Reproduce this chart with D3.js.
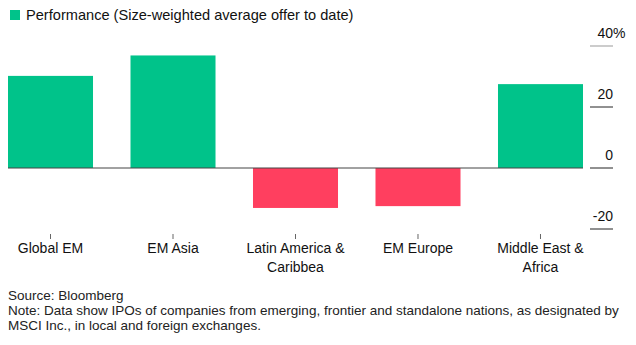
<!DOCTYPE html>
<html>
<head>
<meta charset="utf-8">
<script src="https://cdn.jsdelivr.net/npm/d3@7"></script>
<style>
  body { margin: 0; background: #fff; }
  svg { display: block; font-family: "Liberation Sans", Arial, sans-serif; }
</style>
</head>
<body>
<div id="chart"></div>
<script>
// data
var regions = ["Global EM", "EM Asia", "Latin America & Caribbea", "EM Europe", "Middle East & Africa"];
var regionLines = [["Global EM"], ["EM Asia"], ["Latin America &", "Caribbea"], ["EM Europe"], ["Middle East &", "Africa"]];
var performance = [30.2, 36.9, -13.1, -12.5, 27.5];
var yTicks = [40, 20, 0, -20];

var width = 636, height = 345;
var pos = "#00c38a", neg = "#ff3f5f";

var svg = d3.select("#chart").append("svg")
  .attr("width", width)
  .attr("height", height);

var x = d3.scaleBand()
  .domain(regions)
  .range([8, 583])
  .paddingInner(0.306)
  .paddingOuter(0);

var y = d3.scaleLinear()
  .domain([-20, 40])
  .range([229, 46]);

// legend
svg.append("rect")
  .attr("x", 10).attr("y", 10)
  .attr("width", 10).attr("height", 10)
  .attr("fill", pos);
svg.append("text")
  .attr("x", 26).attr("y", 20)
  .attr("font-size", 14.6)
  .attr("fill", "#111")
  .text("Performance (Size-weighted average offer to date)");

// y axis on the right: tick line under each label
var yg = svg.append("g");
yg.selectAll("line")
  .data(yTicks)
  .enter().append("line")
    .attr("x1", 590).attr("x2", 613)
    .attr("y1", function(d) { return y(d); })
    .attr("y2", function(d) { return y(d); })
    .attr("stroke", function(d) { return d == 40 ? "#999" : "#222"; })
    .attr("stroke-width", 1);
yg.selectAll("text")
  .data(yTicks)
  .enter().append("text")
    .attr("x", 613)
    .attr("y", function(d) { return y(d) - 8; })
    .attr("text-anchor", "end")
    .attr("font-size", 14)
    .attr("fill", "#111")
    .text(function(d) { return d; });
// percent sign after the top label
svg.append("text")
  .attr("x", 613).attr("y", y(40) - 8)
  .attr("font-size", 14)
  .attr("fill", "#111")
  .text("%");

// bars
svg.append("g")
  .selectAll("rect")
  .data(performance)
  .enter().append("rect")
    .attr("x", function(d, i) { return x(regions[i]); })
    .attr("width", x.bandwidth())
    .attr("y", function(d) { return y(Math.max(0, d)); })
    .attr("height", function(d) { return Math.abs(y(d) - y(0)); })
    .attr("fill", function(d) { return d >= 0 ? pos : neg; });

// zero line
svg.append("line")
  .attr("x1", 8).attr("x2", 583)
  .attr("y1", y(0)).attr("y2", y(0))
  .attr("stroke", "#444")
  .attr("stroke-width", 1);

// x ticks + labels
var xg = svg.append("g");
xg.selectAll("line")
  .data(regions)
  .enter().append("line")
    .attr("x1", function(d) { return x(d) + x.bandwidth() / 2; })
    .attr("x2", function(d) { return x(d) + x.bandwidth() / 2; })
    .attr("y1", 234).attr("y2", 239)
    .attr("stroke", "#666");
var labels = xg.selectAll("text")
  .data(regions)
  .enter().append("text")
    .attr("text-anchor", "middle")
    .attr("font-size", 14)
    .attr("fill", "#111")
    .attr("x", function(d) { return x(d) + x.bandwidth() / 2; })
    .attr("y", 253);
labels.each(function(d, i) {
  var t = d3.select(this);
  regionLines[i].forEach(function(line, j) {
    t.append("tspan")
      .attr("x", x(d) + x.bandwidth() / 2)
      .attr("dy", j == 0 ? 0 : 19)
      .text(line);
  });
});

// footer
var notes = ["Source: Bloomberg",
  "Note: Data show IPOs of companies from emerging, frontier and standalone nations, as designated by",
  "MSCI Inc., in local and foreign exchanges."];
svg.append("g").selectAll("text")
  .data(notes)
  .enter().append("text")
    .attr("x", 8)
    .attr("y", function(d, i) { return 300 + i * 15; })
    .attr("font-size", 13.5)
    .attr("fill", "#222")
    .text(function(d) { return d; });
</script>
</body>
</html>
